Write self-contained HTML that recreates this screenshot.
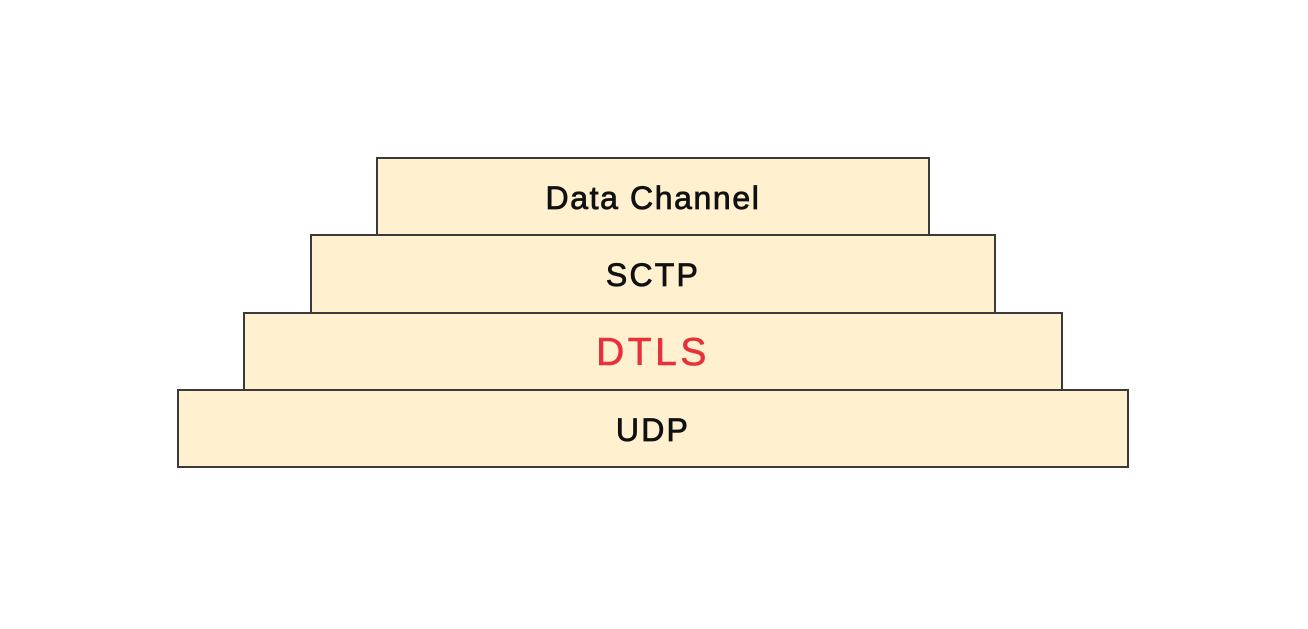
<!DOCTYPE html>
<html><head><meta charset="utf-8"><style>
html,body{margin:0;padding:0;background:#fff;}
body{width:1308px;height:629px;position:relative;overflow:hidden;font-family:"Liberation Sans",sans-serif;}
.b{position:absolute;background:#fff0cf;border:2px solid #3a3a3a;box-sizing:border-box;display:flex;align-items:center;justify-content:center;color:#111;font-size:32px;letter-spacing:2.2px;-webkit-text-stroke:0.8px #111;padding-top:3px;}
</style></head><body>
<div class="b" style="left:177px;top:389px;width:952px;height:79px;">UDP</div>
<div class="b" style="left:243px;top:312px;width:820px;height:79px;color:#e8303a;-webkit-text-stroke:0.6px #e8303a;font-size:39px;letter-spacing:3.5px;">DTLS</div>
<div class="b" style="left:310px;top:234px;width:686px;height:80px;">SCTP</div>
<div class="b" style="left:376px;top:157px;width:554px;height:79px;letter-spacing:1.6px;">Data Channel</div>
</body></html>
